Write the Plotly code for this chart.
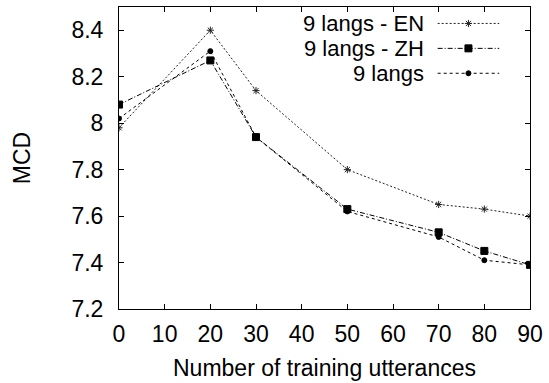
import plotly.graph_objects as go

x_vals = [0, 20, 30, 50, 70, 80, 90]
en_vals = [7.98, 8.40, 8.14, 7.80, 7.65, 7.63, 7.60]
zh_vals = [8.08, 8.27, 7.94, 7.63, 7.53, 7.45, 7.39]
all_vals = [8.02, 8.31, 7.94, 7.62, 7.51, 7.41, 7.39]
series_names = ["9 langs - EN", "9 langs - ZH", "9 langs"]
x_ticks = [0, 10, 20, 30, 40, 50, 60, 70, 80, 90]
y_ticks = [7.2, 7.4, 7.6, 7.8, 8.0, 8.2, 8.4]
y_tick_text = ["7.2", "7.4", "7.6", "7.8", "8", "8.2", "8.4"]

styles = [
    dict(dash="2px,2px", symbol="asterisk-open", size=6, color="#222"),
    dict(dash="5px,2px,1px,2px", symbol="square", size=7, color="#000"),
    dict(dash="3px,3px", symbol="circle", size=5, color="#000"),
]
series = [en_vals, zh_vals, all_vals]

W, H = 549, 383
L, R, T, B = 119, 16, 6, 74
pw, ph = W - L - R, H - T - B
FS = 23
LFS = 22

fig = go.Figure()
for name, vals, st in zip(series_names, series, styles):
    fig.add_trace(go.Scatter(
        x=x_vals, y=vals, mode="lines+markers", name=name,
        line=dict(color=st["color"], width=1, dash=st["dash"]),
        marker=dict(symbol=st["symbol"], size=st["size"], color=st["color"],
                    line=dict(color=st["color"], width=1)),
        showlegend=False,
    ))

legend_rows_py = [22.5, 47.5, 72.5]
text_right_px = 427
samp_x0, samp_x1 = 440, 502
def px2x(px):
    return (px - L) / pw
def py2y(py):
    return 1 - (py - T) / ph

for name, st, py in zip(series_names, styles, legend_rows_py):
    fig.add_annotation(x=px2x(text_right_px), y=py2y(py), xref="paper", yref="paper",
                       text=name, showarrow=False, xanchor="right", yanchor="middle",
                       borderpad=0,
                       font=dict(size=LFS, color="#000"))
    fig.add_trace(go.Scatter(
        x=[px2x(samp_x0), px2x(samp_x1)],
        y=[py2y(py)] * 2, xaxis="x2", yaxis="y2", mode="lines",
        line=dict(color=st["color"], width=1, dash=st["dash"]), showlegend=False,
        hoverinfo="skip"))
    fig.add_trace(go.Scatter(
        x=[px2x((samp_x0 + samp_x1) / 2)], y=[py2y(py)], xaxis="x2", yaxis="y2",
        mode="markers", marker=dict(symbol=st["symbol"], size=st["size"], color=st["color"],
                                     line=dict(color=st["color"], width=1)),
        showlegend=False, hoverinfo="skip"))

axis_common = dict(showgrid=False, zeroline=False, showline=True, linecolor="#000",
                   linewidth=1, mirror="ticks", ticks="inside", ticklen=5,
                   tickcolor="#000", tickfont=dict(size=FS, color="#000"))

fig.update_layout(
    width=W, height=H,
    margin=dict(l=L, r=R, t=T, b=B, pad=0),
    plot_bgcolor="white", paper_bgcolor="white",
    font=dict(family="Liberation Sans, Arial, sans-serif", size=FS, color="#000"),
    xaxis=dict(range=[0, 90], tickvals=x_ticks, ticktext=[str(v) for v in x_ticks],
               ticklabelstandoff=4,
               title=dict(text="Number of training utterances", font=dict(size=FS), standoff=14),
               **axis_common),
    yaxis=dict(range=[7.2, 8.5], tickvals=y_ticks, ticktext=y_tick_text,
               ticklabelstandoff=10,
               title=dict(text="MCD", font=dict(size=FS), standoff=34),
               **axis_common),
    xaxis2=dict(range=[0, 1], overlaying="x", visible=False),
    yaxis2=dict(range=[0, 1], overlaying="y", visible=False),
)

fig.write_html("out.html")
